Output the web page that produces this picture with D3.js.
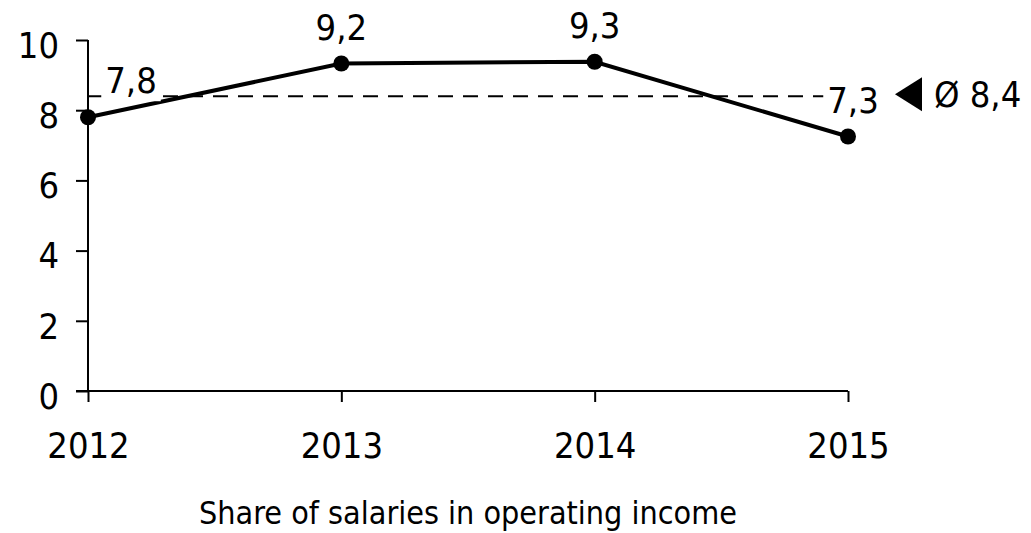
<!DOCTYPE html>
<html>
<head>
<meta charset="utf-8">
<script src="https://cdn.jsdelivr.net/npm/d3@7"></script>
<style>
  body { margin: 0; background: #fff; }
  svg { display: block; }
  svg text { font-family: "DejaVu Sans Condensed", "DejaVu Sans", sans-serif; font-stretch: condensed; }
</style>
</head>
<body>
<svg id="chart" width="1031" height="533"></svg>
<script>
// data
const years = ["2012", "2013", "2014", "2015"];
const shares = [7.8, 9.33, 9.38, 7.25];
const shareLabels = ["7,8", "9,2", "9,3", "7,3"];
const average = 8.4;
const averageLabel = "Ø 8,4";
const yTicks = [0, 2, 4, 6, 8, 10];
const title = "Share of salaries in operating income";

const svg = d3.select("#chart");
const fontSize = 36;

const x = d3.scalePoint().domain(years).range([88, 848]);
const y = d3.scaleLinear().domain([0, 10]).range([391, 40]);

// y axis
const yAxis = svg.append("g")
  .attr("transform", "translate(88,0)")
  .call(d3.axisLeft(y).tickValues(yTicks).tickSize(12).tickPadding(17).tickFormat(d3.format("d")));

// x axis
const xAxis = svg.append("g")
  .attr("transform", "translate(0,391)")
  .call(d3.axisBottom(x).tickSize(11).tickPadding(30));

[yAxis, xAxis].forEach(g => {
  g.attr("font-family", null);
  g.select(".domain").attr("stroke", "#000").attr("stroke-width", 2);
  g.selectAll(".tick line").attr("stroke", "#000").attr("stroke-width", 2);
  g.selectAll(".tick text")
    .attr("fill", "#000")
    .style("font-size", fontSize + "px");
});
yAxis.select(".domain").attr("d", "M0," + y(10) + "V" + y(0));
xAxis.select(".domain").attr("d", "M76,0H" + x("2015"));
yAxis.selectAll(".tick text").attr("dy", "0.48em");
xAxis.selectAll(".tick text").attr("dy", "0.71em");

// average line (dashed)
svg.append("line")
  .attr("x1", x("2012"))
  .attr("x2", x("2015"))
  .attr("y1", y(average))
  .attr("y2", y(average))
  .attr("stroke", "#000")
  .attr("stroke-width", 2)
  .attr("stroke-dasharray", "15,10");

// series line
const line = d3.line()
  .x((d, i) => x(years[i]))
  .y(d => y(d));

svg.append("path")
  .datum(shares)
  .attr("d", line)
  .attr("fill", "none")
  .attr("stroke", "#000")
  .attr("stroke-width", 4);

svg.selectAll("circle.pt")
  .data(shares)
  .enter()
  .append("circle")
  .attr("class", "pt")
  .attr("cx", (d, i) => x(years[i]))
  .attr("cy", d => y(d))
  .attr("r", 8)
  .attr("fill", "#000");

// value labels with white boxes so the dashed line is hidden behind them
const labelOffsetX = [43, 0, 0, 5];
const labelGroups = svg.selectAll("g.vlabel")
  .data(shares)
  .enter()
  .append("g")
  .attr("class", "vlabel")
  .attr("transform", (d, i) => "translate(" + (x(years[i]) + labelOffsetX[i]) + "," + (y(d) - 24) + ")");

labelGroups.append("text")
  .attr("text-anchor", "middle")
  .style("font-size", fontSize + "px")
  .attr("fill", "#000")
  .text((d, i) => shareLabels[i]);

labelGroups.each(function () {
  const g = d3.select(this);
  const bb = g.select("text").node().getBBox();
  g.insert("rect", "text")
    .attr("x", bb.x - 4)
    .attr("y", bb.y + 4)
    .attr("width", bb.width + 8)
    .attr("height", bb.height - 4)
    .attr("fill", "#fff");
});

// average marker + label
const ay = y(average) - 2;
svg.append("path")
  .attr("d", d3.line()([[895, ay], [922, ay - 17], [922, ay + 17]]) + "Z")
  .attr("fill", "#000");

svg.append("text")
  .attr("x", 934)
  .attr("y", ay + 12.5)
  .style("font-size", fontSize + "px")
  .attr("fill", "#000")
  .text(averageLabel);

// title
svg.append("text")
  .attr("x", (x("2012") + x("2015")) / 2)
  .attr("y", 524)
  .attr("text-anchor", "middle")
  .style("font-size", "32px")
  .attr("fill", "#000")
  .text(title);
</script>
</body>
</html>
